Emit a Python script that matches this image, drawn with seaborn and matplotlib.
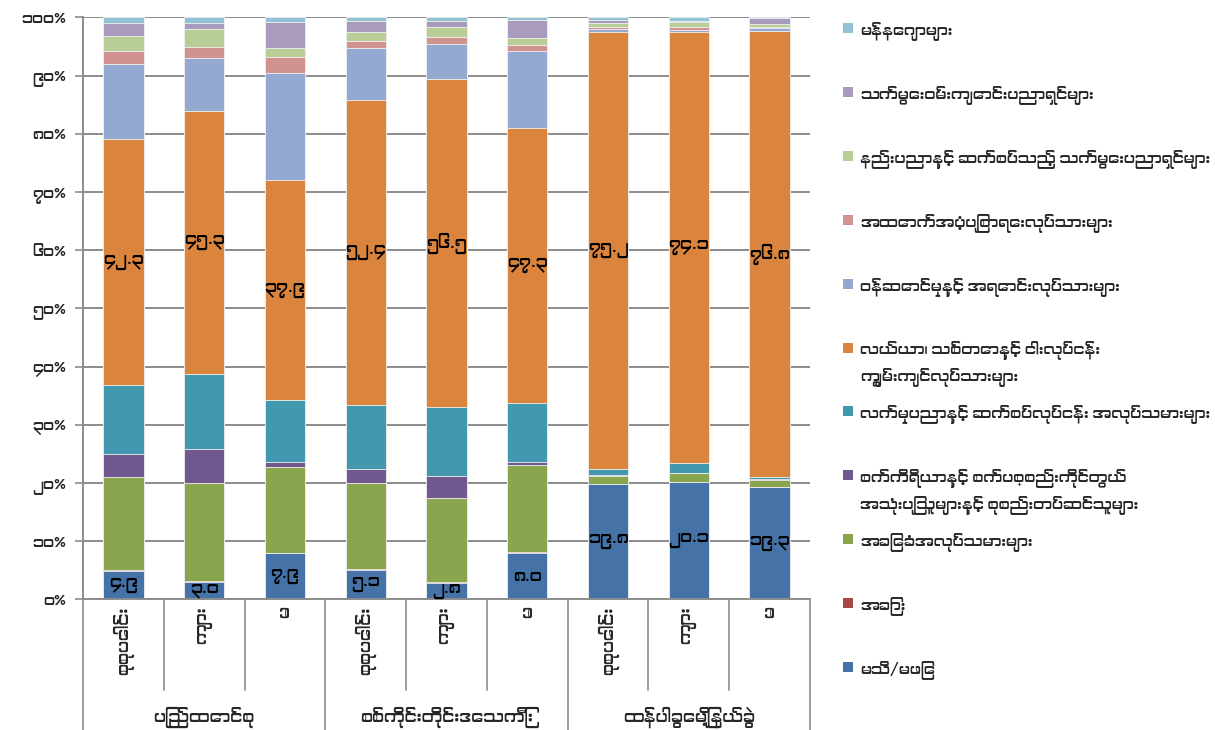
import numpy as np
import matplotlib
matplotlib.use("Agg")
import matplotlib.pyplot as plt
import matplotlib.font_manager as fm
from matplotlib.ft2font import FT2Font
from matplotlib.patches import Rectangle
import matplotlib.transforms as mtransforms
import pandas as pd
import seaborn as sns

# categories
groups = ["ပြည်ထောင်စု", "စစ်ကိုင်းတိုင်းဒေသကြီး", "ထန်ပါခွေမြို့နယ်ခွဲ"]
subs = ["စုစုပေါင်း", "ကျား", "မ"]

# series, bottom to top (percent of each bar)
series_names = [
    "မသိ/မဖြေ",
    "အခြား",
    "အခြေခံအလုပ်သမားများ",
    "စက်ကိရိယာနှင့် စက်ပစ္စည်းကိုင်တွယ်\nအသုံးပြုသူများနှင့် စုစည်းတပ်ဆင်သူများ",
    "လက်မှုပညာနှင့် ဆက်စပ်လုပ်ငန်း အလုပ်သမားများ",
    "လယ်ယာ၊ သစ်တောနှင့် ငါးလုပ်ငန်း\nကျွမ်းကျင်လုပ်သားများ",
    "ဝန်ဆောင်မှုနှင့် အရောင်းလုပ်သားများ",
    "အထောက်အပံ့ပြုစာရေးလုပ်သားများ",
    "နည်းပညာနှင့် ဆက်စပ်သည့် သက်မွေးပညာရှင်များ",
    "သက်မွေးဝမ်းကျောင်းပညာရှင်များ",
    "မန်နေဂျာများ",
]
colors = ["#4572A7", "#AA4643", "#89A54E", "#71588F", "#4198AF", "#DB843D",
          "#93A9CF", "#D19392", "#B9CD96", "#A99BBD", "#91C3D5"]

dont_know = [4.9, 3.0, 7.9, 5.1, 2.8, 8.0, 19.8, 20.1, 19.3]
other = [0.1, 0.1, 0.1, 0.1, 0.1, 0.1, 0.1, 0.1, 0.1]
elementary = [16.0, 16.9, 14.8, 14.8, 14.6, 15.0, 1.3, 1.5, 1.2]
operators = [3.9, 5.9, 0.9, 2.4, 3.7, 0.6, 0.1, 0.1, 0.1]
craft = [11.9, 12.8, 10.5, 11.0, 11.8, 10.1, 1.1, 1.6, 0.3]
agri = [42.3, 45.3, 37.9, 52.4, 56.5, 47.3, 75.2, 74.1, 76.8]
service = [12.9, 9.1, 18.4, 9.1, 6.0, 13.2, 0.5, 0.4, 0.5]
clerical = [2.2, 1.9, 2.8, 1.2, 1.2, 1.1, 0.3, 0.6, 0.1]
technicians = [2.6, 3.1, 1.6, 1.5, 1.7, 1.1, 0.7, 0.8, 0.5]
professionals = [2.3, 1.1, 4.4, 1.9, 1.1, 3.2, 0.5, 0.2, 1.1]
managers = [0.9, 0.9, 0.8, 0.6, 0.6, 0.4, 0.5, 0.6, 0.1]

series = [dont_know, other, elementary, operators, craft, agri, service,
          clerical, technicians, professionals, managers]
labelled = [0, 5]  # series that carry data labels


def find_myanmar_font():
    cands = sorted(fm.fontManager.ttflist,
                   key=lambda f: 0 if ("myanmar" in f.name.lower() or "padauk" in f.name.lower()) else 1)
    for f in cands:
        try:
            if 0x1000 in FT2Font(f.fname).get_charmap():
                return f.name
        except Exception:
            pass
    return None


sns.set_theme(style="white")
mm = find_myanmar_font()
fams = ([mm] if mm else []) + ["DejaVu Sans"]
plt.rcParams["font.family"] = fams

MM_DIGITS = str.maketrans("0123456789", "၀၁၂၃၄၅၆၇၈၉")


def mmnum(s):
    return s.translate(MM_DIGITS)


keys = [g + "|" + s for g in groups for s in subs]
raw = pd.DataFrame(np.array(series).T, columns=range(len(series)))
# 100% stacked: scale each bar to its total
df = raw.div(raw.sum(axis=1), axis=0) * 100
cum = df.cumsum(axis=1)

fig = plt.figure(figsize=(12.15, 7.3), dpi=100)
ax = fig.add_axes([0.0683, 0.179, 0.5984, 0.7973])

# draw from the top layer down so each lower layer covers the upper one
for i in reversed(range(len(series))):
    sns.barplot(x=keys, y=cum[i].values, order=keys, color=colors[i],
                width=0.5, ax=ax, saturation=1, edgecolor="#f2f2f2",
                linewidth=0.6, err_kws={"linewidth": 0})

# data labels
for i in labelled:
    bottoms = cum[i].values - df[i].values
    for j, k in enumerate(keys):
        v = df[i].values[j]
        ax.text(j, bottoms[j] + v / 2, mmnum(f"{raw[i].values[j]:.1f}"),
                ha="center", va="center", fontsize=12, color="black")

ax.set_xlim(-0.5, len(keys) - 0.5)
ax.set_ylim(0, 100)
yt = np.arange(0, 101, 10)
ax.set_yticks(yt)
ax.set_yticklabels([mmnum(str(t)) + "%" for t in yt], fontsize=11)
ax.yaxis.grid(True, color="#8c8c8c", linewidth=1.4)
ax.set_axisbelow(True)
ax.tick_params(axis="y", length=6, width=1.2, color="#8c8c8c", left=True, pad=6)
ax.set_xticks([])
ax.set_xlabel("")
for s in ["top", "right"]:
    ax.spines[s].set_visible(False)
for s in ["left", "bottom"]:
    ax.spines[s].set_color("#8c8c8c")
    ax.spines[s].set_linewidth(1.4)

# multi-level category axis
trans = mtransforms.blended_transform_factory(ax.transData, ax.transAxes)
for b in np.arange(-0.5, len(keys), 1.0):
    outer = (b + 0.5) % 3 == 0
    ax.plot([b, b], [0, -0.2245 if outer else -0.156], transform=trans,
            color="#8c8c8c", linewidth=1.2, clip_on=False)
for j, k in enumerate(keys):
    ax.text(j, -0.012, k.split("|")[1], transform=trans, rotation=90,
            ha="center", va="top", fontsize=12)
for gi, g in enumerate(groups):
    ax.text(gi * 3 + 1, -0.202, g, transform=trans, ha="center",
            va="center", fontsize=12)

# legend, top entry first
for n, i in enumerate(reversed(range(len(series)))):
    ypx = 28 + n * 63.9
    yf = 1 - ypx / 730
    fig.patches.append(Rectangle((843 / 1215, yf - 5 / 730), 10 / 1215, 10 / 730,
                                 transform=fig.transFigure, facecolor=colors[i],
                                 edgecolor="none"))
    fig.text(860 / 1215, yf + 7 / 730, series_names[i], ha="left", va="top",
             fontsize=11, linespacing=1.6)

fig.savefig("out.png", dpi=100)
